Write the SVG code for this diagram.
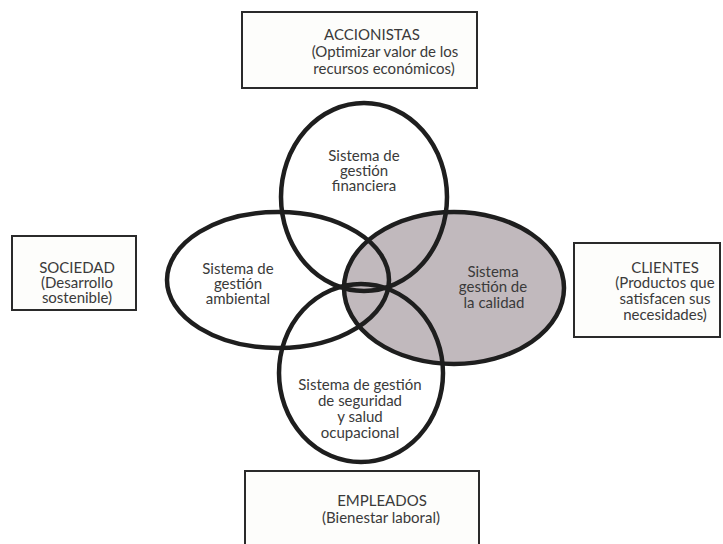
<svg xmlns="http://www.w3.org/2000/svg" width="723" height="544" viewBox="0 0 723 544">
  <style>
    .box { fill: #fdfdfb; stroke: #2a2a2a; stroke-width: 2; }
    .ring { fill: none; stroke: #1e1e1e; stroke-width: 4.5; }
    .shade { fill: #c1b9bd; stroke: none; }
    text { font-family: "Lato", "Open Sans", "Liberation Sans", sans-serif; font-size: 15px; fill: #3a3a3a; text-anchor: middle; }
  </style>
  <rect width="723" height="544" fill="#ffffff"/>

  <!-- stakeholder boxes -->
  <g id="accionistas">
    <rect class="box" x="242" y="12" width="235" height="76"/>
    <text x="372" y="40">ACCIONISTAS</text>
    <text x="385" y="57">(Optimizar valor de los</text>
    <text x="384" y="74">recursos económicos)</text>
  </g>
  <g id="sociedad">
    <rect class="box" x="12" y="236" width="124" height="74"/>
    <text x="77" y="273">SOCIEDAD</text>
    <text x="77" y="288">(Desarrollo</text>
    <text x="77" y="303">sostenible)</text>
  </g>
  <g id="clientes">
    <rect class="box" x="574" y="243" width="146" height="94"/>
    <text x="665" y="273">CLIENTES</text>
    <text x="665" y="288">(Productos que</text>
    <text x="665" y="304">satisfacen sus</text>
    <text x="665" y="320">necesidades)</text>
  </g>
  <g id="empleados">
    <rect class="box" x="245" y="471" width="234" height="80"/>
    <text x="382" y="506">EMPLEADOS</text>
    <text x="381" y="523">(Bienestar laboral)</text>
  </g>

  <!-- management systems -->
  <g id="calidad">
    <ellipse class="shade" cx="454" cy="288" rx="110" ry="76"/>
    <ellipse class="ring" cx="454" cy="288" rx="110" ry="76"/>
    <text x="493" y="277">Sistema</text>
    <text x="493" y="292">gestión de</text>
    <text x="494" y="308">la calidad</text>
  </g>
  <g id="financiera">
    <ellipse class="ring" cx="364" cy="197" rx="83" ry="94"/>
    <text x="364" y="161">Sistema de</text>
    <text x="364" y="176">gestión</text>
    <text x="364" y="191">financiera</text>
  </g>
  <g id="ambiental">
    <ellipse class="ring" cx="278" cy="280" rx="111" ry="68"/>
    <text x="238" y="274">Sistema de</text>
    <text x="238" y="289">gestión</text>
    <text x="238" y="304">ambiental</text>
  </g>
  <g id="seguridad">
    <ellipse class="ring" cx="361" cy="373" rx="82" ry="89"/>
    <text x="360" y="390">Sistema de gestión</text>
    <text x="360" y="406">de seguridad</text>
    <text x="360" y="422">y salud</text>
    <text x="360" y="438">ocupacional</text>
  </g>

  <g id="connectors"></g>
</svg>
